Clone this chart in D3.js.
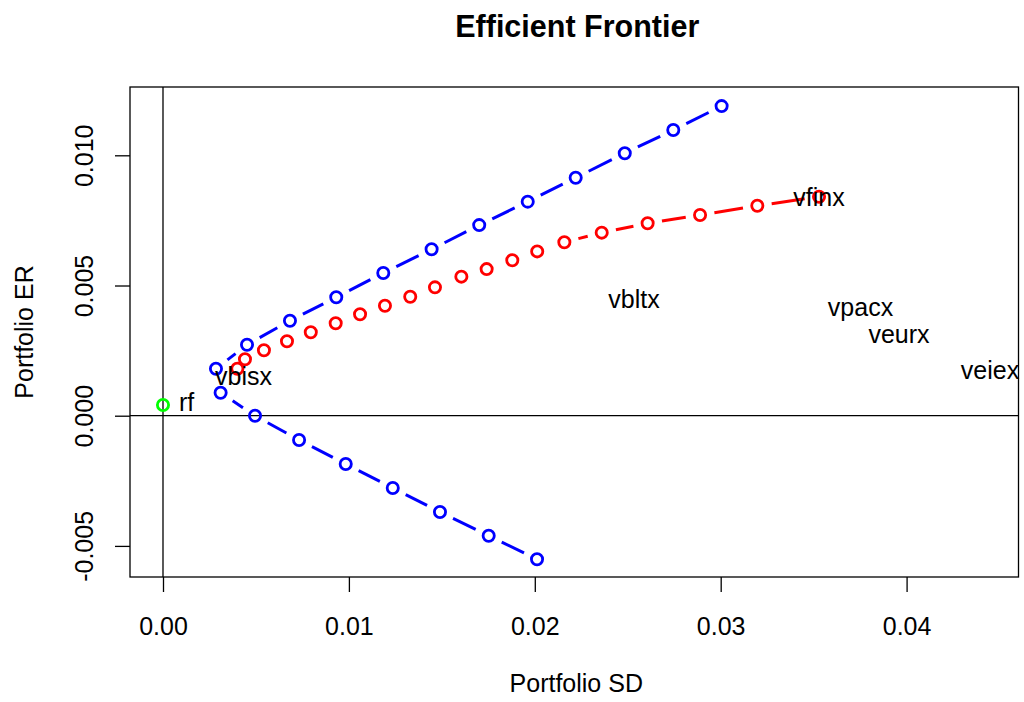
<!DOCTYPE html>
<html><head><meta charset="utf-8">
<script src="https://cdn.jsdelivr.net/npm/d3@7"></script>
<style>body{margin:0;background:#fff}svg{display:block}text{font-family:"Liberation Sans",Arial,Helvetica,sans-serif}</style>
</head><body><script>
// Frontier portfolios (SD, ER)
const frontierSD = [0.02012,0.01752,0.01490,0.01236,0.00983,0.00732,0.00495,0.00310,0.00285,0.00452,0.00683,0.00932,0.01185,0.01445,0.01701,0.01962,0.02220,0.02484,0.02745,0.03005];
const frontierER = [-0.005515,-0.004608,-0.003698,-0.002776,-0.001855,-0.000933,0.0000,0.000883,0.001805,0.002727,0.003648,0.004547,0.00548,0.00639,0.00732,0.00822,0.00914,0.01008,0.01097,0.01189];
// Tangency-combination portfolios (SD, ER)
const tangentSD = [0.00400,0.00441,0.00543,0.00667,0.00795,0.00929,0.01060,0.01194,0.01330,0.01463,0.01605,0.01741,0.01879,0.02013,0.02159,0.02360,0.02607,0.02889,0.03197,0.03529];
const tangentER = [0.001805,0.002166,0.002512,0.002857,0.003203,0.003548,0.003894,0.004224,0.00457,0.00493,0.00534,0.00563,0.00597,0.00631,0.00666,0.00703,0.00739,0.00771,0.00806,0.00841];
// Assets
const assetNames = ["vbisx","vbltx","vfinx","vpacx","veurx","veiex"];
const assetSD = [0.00433,0.02534,0.03529,0.03752,0.03959,0.04449];
const assetER = [0.00152,0.00448,0.00840,0.00419,0.00312,0.00174];
const rfSD = [0], rfER = [0.00041], rfLabel = ["rf"];
const xTicks = [0,0.01,0.02,0.03,0.04];
const xTickLabels = ["0.00","0.01","0.02","0.03","0.04"];
const yTicks = [-0.005,0,0.005,0.01];
const yTickLabels = ["-0.005","0.000","0.005","0.010"];

const W=1024,H=702;
const svg=d3.select("body").append("svg").attr("width",W).attr("height",H);
const L=130,R=1018.5,T=87,B=577;
const x=d3.scaleLinear().domain([-0.001775,0.04602]).range([L,R]);
const y=d3.scaleLinear().domain([-0.006194,0.012623]).range([B,T]);
const FS=25;

svg.append("text").attr("x",(L+R)/2+3).attr("y",37).attr("text-anchor","middle")
  .attr("font-size",30.5).attr("font-weight","bold").text("Efficient Frontier");

// axes
const xAxis=d3.axisBottom(x).tickValues(xTicks).tickSize(15).tickPadding(0).tickFormat((d,i)=>xTickLabels[i]);
const gx=svg.append("g").attr("transform",`translate(0,${B})`).call(xAxis);
gx.select(".domain").remove();
gx.selectAll("line").attr("stroke","#000").attr("stroke-width",1.3);
gx.selectAll("text").attr("font-size",FS).attr("fill","#000").attr("dy",null).attr("y",58);
const yAxis=d3.axisLeft(y).tickValues(yTicks).tickSize(15).tickFormat((d,i)=>yTickLabels[i]);
const gy=svg.append("g").attr("transform",`translate(${L},0)`).call(yAxis);
gy.select(".domain").remove();
gy.selectAll("line").attr("stroke","#000").attr("stroke-width",1.3);
gy.selectAll("text").attr("font-size",FS).attr("fill","#000").attr("text-anchor","middle")
  .attr("x",null).attr("dy",null).attr("y",null)
  .attr("transform",`translate(${93-L},0) rotate(-90)`);

svg.append("text").attr("x",(L+R)/2+2).attr("y",692).attr("text-anchor","middle").attr("font-size",FS).text("Portfolio SD");
svg.append("text").attr("transform",`translate(33,${(T+B)/2}) rotate(-90)`).attr("text-anchor","middle").attr("font-size",FS).text("Portfolio ER");

// ablines
svg.append("line").attr("x1",x(0)).attr("x2",x(0)).attr("y1",T).attr("y2",B).attr("stroke","#000").attr("stroke-width",1.3);
svg.append("line").attr("x1",L).attr("x2",R).attr("y1",y(0)).attr("y2",y(0)).attr("stroke","#000").attr("stroke-width",1.3);

// box
svg.append("rect").attr("x",L).attr("y",T).attr("width",R-L).attr("height",B-T).attr("fill","none").attr("stroke","#000").attr("stroke-width",1.3);

function drawB(xs,ys,color){
  const pts=xs.map((v,i)=>[x(v),y(ys[i])]);
  const gap=14.5;
  const segs=[];
  for(let i=0;i<pts.length-1;i++){
    const [x1,y1]=pts[i],[x2,y2]=pts[i+1];
    const dx=x2-x1,dy=y2-y1,len=Math.hypot(dx,dy);
    if(len>2*gap){segs.push([x1+dx/len*gap,y1+dy/len*gap,x2-dx/len*gap,y2-dy/len*gap]);}
  }
  const g=svg.append("g");
  g.selectAll("line").data(segs).enter().append("line")
    .attr("x1",d=>d[0]).attr("y1",d=>d[1]).attr("x2",d=>d[2]).attr("y2",d=>d[3])
    .attr("stroke",color).attr("stroke-width",3);
  g.selectAll("circle").data(pts).enter().append("circle")
    .attr("cx",d=>d[0]).attr("cy",d=>d[1]).attr("r",5.6)
    .attr("fill","none").attr("stroke",color).attr("stroke-width",2.8);
}
drawB(frontierSD,frontierER,"#0000ff");
drawB(tangentSD,tangentER,"#ff0000");

svg.selectAll("circle.rf").data(rfSD).enter().append("circle").attr("class","rf")
  .attr("cx",d=>x(d)).attr("cy",(d,i)=>y(rfER[i])).attr("r",5.6)
  .attr("fill","none").attr("stroke","#00ff00").attr("stroke-width",2.8);
svg.selectAll("text.rf").data(rfLabel).enter().append("text").attr("class","rf")
  .attr("x",(d,i)=>x(rfSD[i])+16).attr("y",(d,i)=>y(rfER[i])+6).attr("font-size",FS).text(d=>d);

svg.selectAll("text.asset").data(assetNames).enter().append("text").attr("class","asset")
  .attr("x",(d,i)=>x(assetSD[i])).attr("y",(d,i)=>y(assetER[i])+0.358*FS)
  .attr("text-anchor","middle").attr("font-size",FS).text(d=>d);
</script></body></html>
